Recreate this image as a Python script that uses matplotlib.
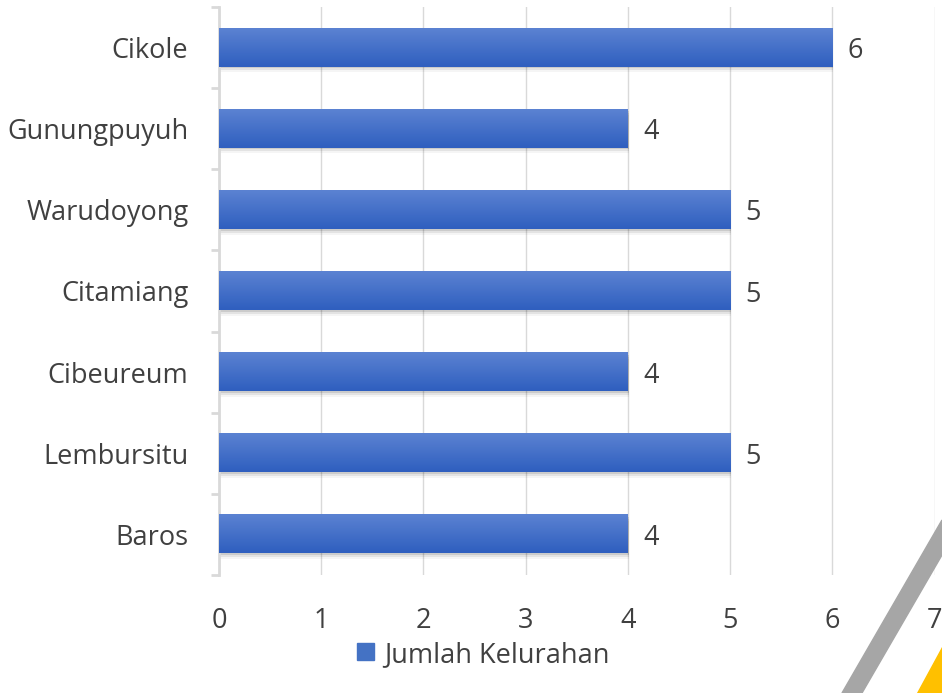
import numpy as np
import matplotlib.pyplot as plt
from matplotlib.patches import Polygon, Rectangle
from matplotlib.colors import LinearSegmentedColormap

kecamatan = ["Baros", "Lembursitu", "Cibeureum", "Citamiang",
             "Warudoyong", "Gunungpuyuh", "Cikole"]
jumlah_kelurahan = [4, 5, 4, 5, 5, 4, 6]
series_name = "Jumlah Kelurahan"

TEXT = "#404040"
GRID = "#d9d9d9"
FS = 19.5
plt.rcParams["font.family"] = ["Open Sans", "DejaVu Sans"]

fig = plt.figure(figsize=(9.42, 6.93), dpi=100)
ax = fig.add_axes([219 / 942, 1 - 575 / 693, (934.5 - 219) / 942, (575 - 7) / 693])

y = np.arange(len(kecamatan))
bars = ax.barh(y, jumlah_kelurahan, height=0.47, color="#4472c4", zorder=3)

# gradient fill + soft shadow, like the office chart style
grad = LinearSegmentedColormap.from_list("g", ["#2f5fbf", "#5b82d2"])
for b in bars:
    x0, y0, w, h = b.get_x(), b.get_y(), b.get_width(), b.get_height()
    for i, a in enumerate([0.10, 0.07, 0.04]):
        ax.add_patch(Rectangle((x0 + 0.01, y0 - 0.02 - i * 0.025), w, h,
                               color="black", alpha=a, lw=0, zorder=2))
    ax.imshow(np.linspace(0, 1, 50).reshape(-1, 1), cmap=grad, aspect="auto",
              extent=(x0, x0 + w, y0, y0 + h), origin="lower", zorder=3.5)

for yi, v in zip(y, jumlah_kelurahan):
    ax.text(v + 0.15, yi, str(v), va="center_baseline", ha="left",
            fontsize=FS, color=TEXT)

ax.set_xlim(0, 7)
ax.set_ylim(-0.5, len(kecamatan) - 0.5)
ax.set_xticks(range(8))
ax.tick_params(axis="x", length=0, labelsize=FS, labelcolor=TEXT, pad=23)
ax.set_yticks(y)
ax.set_yticklabels(kecamatan)
ax.tick_params(axis="y", which="major", length=0, labelsize=FS,
               labelcolor=TEXT, pad=22)
ax.set_yticks(np.arange(-0.5, len(kecamatan), 1), minor=True)
ax.tick_params(axis="y", which="minor", length=6, width=2, color=GRID)
ax.grid(axis="x", color=GRID, lw=1, zorder=0)
for s in ["top", "right", "bottom"]:
    ax.spines[s].set_visible(False)
ax.spines["left"].set_color(GRID)
ax.spines["left"].set_linewidth(2)

# legend (placed in pixel terms, below the axis)
fig.patches.append(Rectangle((357 / 942, 1 - 660 / 693), 17 / 942, 17 / 693,
                             transform=fig.transFigure, color="#4472c4"))
fig.text(384 / 942, 1 - 652 / 693, series_name, fontsize=FS, color=TEXT,
         va="center_baseline", ha="left")

# slide decoration bottom-right
fig.patches.append(Polygon([(842 / 942, 0), (862 / 942, 0), (942 / 942, 1 - 555 / 693),
                            (942 / 942, 1 - 520 / 693)],
                           closed=True, transform=fig.transFigure, color="#a6a6a6"))
fig.patches.append(Polygon([(917 / 942, 0), (942 / 942, 0), (942 / 942, 1 - 647 / 693)],
                           closed=True, transform=fig.transFigure, color="#ffc000"))

fig.savefig("out.png", dpi=100)
